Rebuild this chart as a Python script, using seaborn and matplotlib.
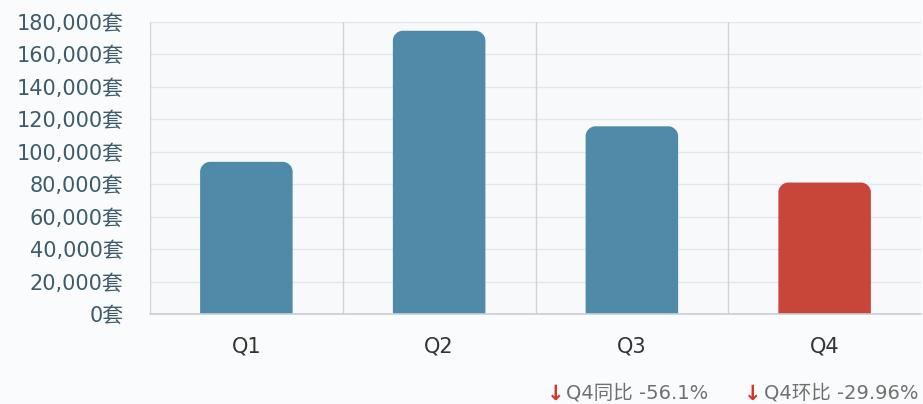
import numpy as np
import pandas as pd
import matplotlib
matplotlib.use("Agg")
import matplotlib.pyplot as plt
from matplotlib.path import Path
from matplotlib.patches import PathPatch
import seaborn as sns

quarters = ["Q1", "Q2", "Q3", "Q4"]
sales = [93800, 174600, 115700, 81040]
bar_colors = ["#4f8aa8", "#4f8aa8", "#4f8aa8", "#c8453a"]
y_ticks = [0, 20000, 40000, 60000, 80000, 100000, 120000, 140000, 160000, 180000]
yoy_label = "Q4同比 -56.1%"
qoq_label = "Q4环比 -29.96%"

sns.set_theme(style="white")
fam = ["DejaVu Sans", "Noto Sans CJK SC"]
plt.rcParams["font.family"] = fam

fig = plt.figure(figsize=(9.23, 4.04), dpi=100, facecolor="#fafbfc")
ax = fig.add_axes([150 / 923, 1 - 314 / 404, 771 / 923, 292 / 404])
ax.set_facecolor("#f8f9fb")

df = pd.DataFrame({"quarter": quarters, "sales": sales})
sns.barplot(data=df, x="quarter", y="sales", hue="quarter", order=quarters,
            palette=dict(zip(quarters, bar_colors)), width=0.48, legend=False,
            saturation=1, ax=ax, zorder=3)

ax.set_xlim(-0.5, len(quarters) - 0.5)
ax.set_ylim(0, y_ticks[-1])
ax.set_xlabel("")
ax.set_ylabel("")

# replace the square bars with bars that have rounded top corners
fig.canvas.draw()
x_px = ax.transData.transform([(0, 0), (1, 1)])
ux = x_px[1, 0] - x_px[0, 0]
uy = x_px[1, 1] - x_px[0, 1]
radius_px = 10
k = 0.5523
for patch in list(ax.patches):
    x0, y0 = patch.get_x(), patch.get_y()
    w, h = patch.get_width(), patch.get_height()
    rx = radius_px / ux
    ry = min(radius_px / uy, h / 2)
    x1, y1 = x0 + w, y0 + h
    verts = [
        (x0, y0), (x0, y1 - ry),
        (x0, y1 - ry + k * ry), (x0 + rx - k * rx, y1), (x0 + rx, y1),
        (x1 - rx, y1),
        (x1 - rx + k * rx, y1), (x1, y1 - ry + k * ry), (x1, y1 - ry),
        (x1, y0), (x0, y0),
    ]
    codes = [Path.MOVETO, Path.LINETO,
             Path.CURVE4, Path.CURVE4, Path.CURVE4,
             Path.LINETO,
             Path.CURVE4, Path.CURVE4, Path.CURVE4,
             Path.LINETO, Path.CLOSEPOLY]
    rounded = PathPatch(Path(verts, codes), facecolor=patch.get_facecolor(),
                        edgecolor="none", zorder=3)
    patch.remove()
    ax.add_patch(rounded)

# grid and separators
ax.set_yticks(y_ticks)
ax.set_yticklabels([f"{v:,}套" for v in y_ticks])
ax.yaxis.grid(True, color="#e2e7eb", linewidth=1.0, zorder=0)
ax.tick_params(axis="y", length=17, color="#dde3e7", width=1.0, pad=2,
               labelsize=15, labelcolor="#3e5b6c")
ax.tick_params(axis="x", length=0, pad=16, labelsize=15, labelcolor="#333333")
for b in np.arange(len(quarters)) - 0.5:
    ax.axvline(b, color="#cfd4d8", linewidth=1.0, zorder=1)

for side in ["top", "right", "left"]:
    ax.spines[side].set_visible(False)
ax.spines["bottom"].set_color("#c9cfd4")
ax.spines["bottom"].set_linewidth(1.2)
ax.spines["bottom"].set_zorder(4)

# change summary under the chart, each item preceded by a red down arrow
ty = 1 - 393 / 404
t1 = fig.text(566 / 923, ty, yoy_label, color="#707070", fontsize=14,
              family=fam, va="center", ha="left")
t2 = fig.text(918 / 923, ty, qoq_label, color="#707070", fontsize=14,
              family=fam, va="center", ha="right")
fig.canvas.draw()
renderer = fig.canvas.get_renderer()
for t in (t1, t2):
    left_px = t.get_window_extent(renderer).x0
    fig.text((left_px - 2) / 923, ty - 1 / 404, "↓", color="#d9342b",
             fontsize=15, fontweight="bold", family=fam, va="center", ha="right")

fig.savefig("out.png", dpi=100, facecolor=fig.get_facecolor())
